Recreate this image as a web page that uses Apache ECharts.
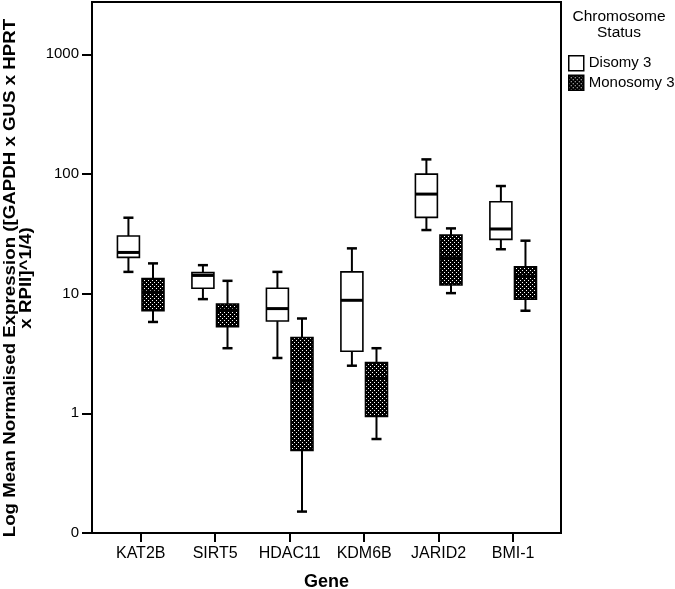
<!DOCTYPE html>
<html>
<head>
<meta charset="utf-8">
<script src="https://cdn.jsdelivr.net/npm/echarts@6/dist/echarts.min.js"></script>
<style>html,body{margin:0;padding:0;background:#fff}#c{width:675px;height:589px}</style>
</head>
<body>
<div id="c"></div>
<script>
// Categories
const genes = ['KAT2B', 'SIRT5', 'HDAC11', 'KDM6B', 'JARID2', 'BMI-1'];
// Box statistics per gene: [lower whisker, Q1, median, Q3, upper whisker]
const disomy = [
  [15.2, 20.1, 22.1, 30.3, 43.1],
  [9.0, 11.1, 14.2, 15.0, 17.3],
  [2.9, 5.9, 7.5, 11.1, 15.2],
  [2.5, 3.3, 8.8, 15.2, 23.9],
  [34.0, 43.4, 67.9, 99.8, 132.4],
  [23.5, 28.4, 34.7, 58.6, 79.3]
];
const monosomy = [
  [5.8, 7.2, 10.3, 13.4, 17.9],
  [3.5, 5.3, 7.3, 8.2, 12.8],
  [0.151, 0.49, 1.87, 4.3, 6.2],
  [0.61, 0.94, 1.96, 2.65, 3.5],
  [10.1, 11.8, 19.9, 30.9, 35.1],
  [7.2, 9.0, 14.0, 16.8, 27.7]
];
// Y tick values (log10) and labels
const yTickValues = [-1, 0, 1, 2, 3];
const yTickLabels = ['0', '1', '10', '100', '1000'];

const FONT = '"Liberation Sans", Arial, sans-serif';

// hatch pattern
const pc = document.createElement('canvas');
pc.width = 4; pc.height = 4;
const pctx = pc.getContext('2d');
pctx.fillStyle = '#000'; pctx.fillRect(0, 0, 4, 4);
pctx.fillStyle = '#fff';
pctx.fillRect(0, 0, 1, 1);
pctx.fillRect(2, 2, 1, 1);
const hatch = { image: pc, repeat: 'repeat' };

function toRows(arr) {
  return arr.map((r, i) => [i].concat(r.map(v => Math.log10(v))));
}

function makeRender(side, fill) {
  return function (params, api) {
    const band = api.size([1, 0])[0];
    const off = side * band * 0.165;
    const bw = band * 0.295;
    const cap = band * 0.135;
    const i = api.value(0);
    const pMin = api.coord([i, api.value(1)]);
    const pQ1 = api.coord([i, api.value(2)]);
    const pMed = api.coord([i, api.value(3)]);
    const pQ3 = api.coord([i, api.value(4)]);
    const pMax = api.coord([i, api.value(5)]);
    const cx = pMin[0] + off;
    const ls = { stroke: '#000', lineWidth: 2 };
    return {
      type: 'group',
      children: [
        { type: 'line', shape: { x1: cx, y1: pMax[1], x2: cx, y2: pQ3[1] }, style: ls },
        { type: 'line', shape: { x1: cx, y1: pQ1[1], x2: cx, y2: pMin[1] }, style: ls },
        { type: 'line', shape: { x1: cx - cap / 2, y1: pMax[1], x2: cx + cap / 2, y2: pMax[1] }, style: { stroke: '#000', lineWidth: 2.5 } },
        { type: 'line', shape: { x1: cx - cap / 2, y1: pMin[1], x2: cx + cap / 2, y2: pMin[1] }, style: { stroke: '#000', lineWidth: 2.5 } },
        { type: 'rect', shape: { x: cx - bw / 2, y: pQ3[1], width: bw, height: pQ1[1] - pQ3[1] },
          style: { fill: fill, stroke: '#000', lineWidth: 1.6 } },
        { type: 'line', shape: { x1: cx - bw / 2, y1: pMed[1], x2: cx + bw / 2, y2: pMed[1] }, style: { stroke: '#000', lineWidth: 3 } }
      ]
    };
  };
}

const chart = echarts.init(document.getElementById('c'), null, { renderer: 'canvas' });
chart.setOption({
  animation: false,
  backgroundColor: '#fff',
  textStyle: { fontFamily: FONT, color: '#000' },
  grid: { left: 92, right: 114, top: 2, bottom: 56, show: true, borderColor: '#000', borderWidth: 2,
    backgroundColor: 'transparent', containLabel: false, outerBoundsMode: 'none' },
  legend: {
    orient: 'vertical', left: 563, top: 50, itemWidth: 15, itemHeight: 15, itemGap: 3,
    icon: 'rect',
    textStyle: { fontFamily: FONT, fontSize: 15, color: '#000' },
    data: [
      { name: 'Disomy 3', itemStyle: { color: '#fff', borderColor: '#000', borderWidth: 1.5 } },
      { name: 'Monosomy 3', itemStyle: { color: hatch, borderColor: '#000', borderWidth: 1.5 } }
    ]
  },
  graphic: [{
    type: 'text', x: 619, y: 9,
    style: { text: 'Chromosome\nStatus', align: 'center', font: '15.5px ' + FONT, fill: '#000', lineHeight: 16 }
  }, {
    type: 'text', x: 18, y: 278, rotation: Math.PI / 2, scaleX: 1.1,
    style: { text: 'Log Mean Normalised Expression ([GAPDH x GUS x HPRT\nx RPII]^1/4)',
      align: 'center', verticalAlign: 'middle', font: 'bold 17px ' + FONT, fill: '#000', lineHeight: 16 }
  }],
  xAxis: {
    type: 'value', min: -0.654, max: 5.642,
    name: 'Gene', nameLocation: 'middle', nameGap: 40,
    nameTextStyle: { fontFamily: FONT, fontSize: 18, fontWeight: 'bold', color: '#000' },
    axisLine: { show: true, onZero: false, lineStyle: { color: '#000', width: 2 } },
    axisTick: { show: true, length: 9, customValues: [0, 1, 2, 3, 4, 5], lineStyle: { color: '#000', width: 2 } },
    axisLabel: { customValues: [0, 1, 2, 3, 4, 5], margin: 13, fontSize: 16, color: '#000', fontFamily: FONT,
      formatter: v => genes[Math.round(v)] },
    splitLine: { show: false }
  },
  yAxis: {
    type: 'value', min: -1, max: 3.437,
    axisLine: { show: true, onZero: false, lineStyle: { color: '#000', width: 2 } },
    axisTick: { show: true, length: 10, customValues: yTickValues, lineStyle: { color: '#000', width: 2 } },
    axisLabel: { customValues: yTickValues, margin: 13, fontSize: 15, color: '#000', fontFamily: FONT,
      formatter: v => yTickLabels[yTickValues.indexOf(Math.round(v))] },
    splitLine: { show: false }
  },
  series: [
    { type: 'custom', name: 'Disomy 3', renderItem: makeRender(-1, '#fff'),
      itemStyle: { color: '#fff', borderColor: '#000' },
      encode: { x: 0, y: [1, 2, 3, 4, 5] }, data: toRows(disomy) },
    { type: 'custom', name: 'Monosomy 3', renderItem: makeRender(1, hatch),
      itemStyle: { color: hatch, borderColor: '#000' },
      encode: { x: 0, y: [1, 2, 3, 4, 5] }, data: toRows(monosomy) }
  ]
});
</script>
</body>
</html>
